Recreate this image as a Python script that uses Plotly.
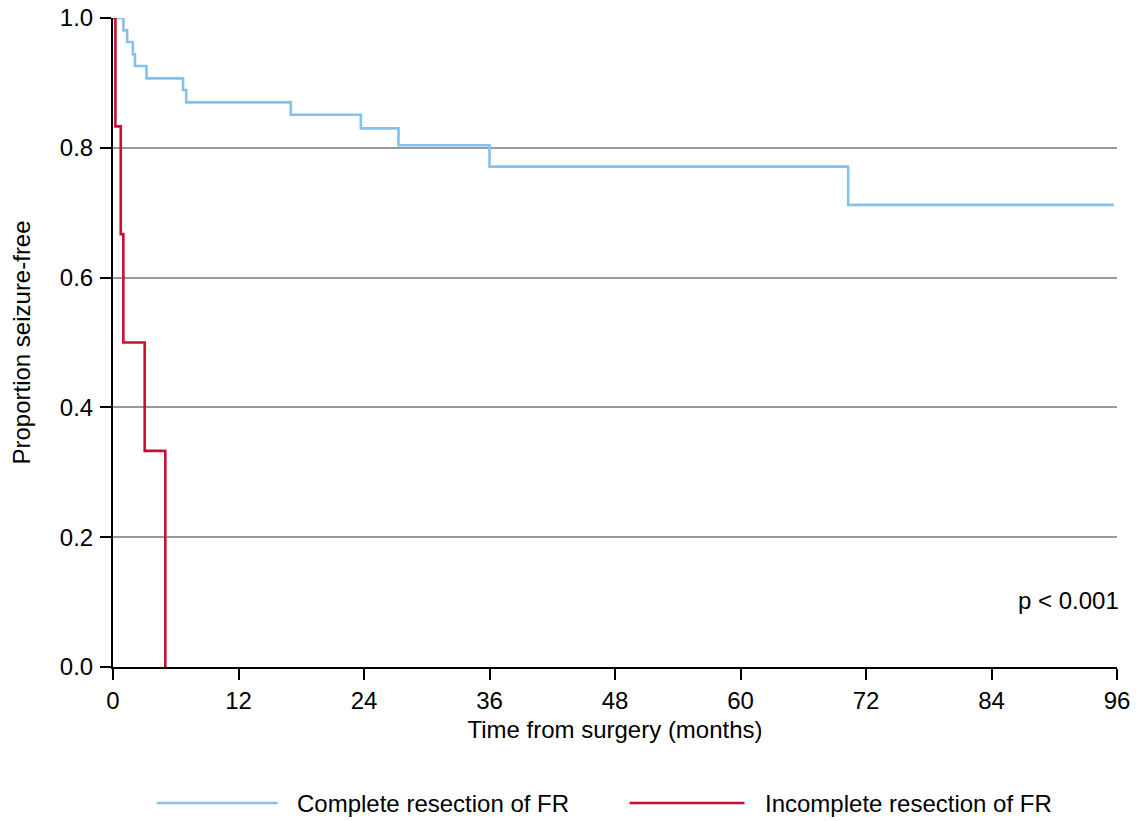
import plotly.graph_objects as go

# Kaplan-Meier step data (months, proportion seizure-free)
complete_t = [0, 1.0, 1.35, 1.9, 2.1, 3.2, 6.7, 7.0, 17.0, 23.7, 27.3, 36.0, 70.3, 95.7]
complete_s = [1.0, 0.981, 0.963, 0.944, 0.926, 0.907, 0.889, 0.870, 0.851, 0.830, 0.804, 0.771, 0.712, 0.712]

incomplete_t = [0, 0.23, 0.74, 0.99, 3.03, 5.0]
incomplete_s = [1.0, 0.833, 0.667, 0.5, 0.333, 0.0]

series_names = ["Complete resection of FR", "Incomplete resection of FR"]
series_colors = ["#85c1ea", "#c8102e"]

x_ticks = [0, 12, 24, 36, 48, 60, 72, 84, 96]
y_ticks = [0.0, 0.2, 0.4, 0.6, 0.8, 1.0]
y_tick_labels = ["0.0", "0.2", "0.4", "0.6", "0.8", "1.0"]

FONT = "Liberation Sans, Arial, sans-serif"
FS = 24
LW = 2.6

fig = go.Figure()
fig.add_trace(go.Scatter(x=complete_t, y=complete_s, mode="lines", line_shape="hv",
                         line=dict(color=series_colors[0], width=LW), name=series_names[0],
                         showlegend=False))
fig.add_trace(go.Scatter(x=incomplete_t, y=incomplete_s, mode="lines", line_shape="hv",
                         line=dict(color=series_colors[1], width=LW), name=series_names[1],
                         showlegend=False))

# manual legend (long line samples like the reference)
leg_y = -0.2096
leg_items = [(0.0434, 0.1640, 0.1810), (0.5145, 0.629, 0.647)]
for (x0, x1, xt), name, col in zip(leg_items, series_names, series_colors):
    fig.add_shape(type="line", xref="paper", yref="paper", x0=x0, x1=x1, y0=leg_y, y1=leg_y,
                  line=dict(color=col, width=LW))
    fig.add_annotation(xref="paper", yref="paper", x=xt, y=leg_y, text=name, showarrow=False,
                       xanchor="left", yanchor="middle", font=dict(size=FS, color="black", family=FONT))

fig.add_annotation(x=96, y=0.103, text="p < 0.001", showarrow=False, xanchor="right",
                   yanchor="middle", xshift=4, font=dict(size=FS, color="black", family=FONT))

fig.update_layout(
    width=1144, height=821,
    margin=dict(l=113, r=27, t=18, b=154),
    plot_bgcolor="white", paper_bgcolor="white",
    font=dict(family=FONT, size=FS, color="black"),
    showlegend=False,
)
fig.update_xaxes(range=[0, 96], tickvals=x_ticks, ticktext=[str(v) for v in x_ticks],
                 automargin=False,
                 showgrid=False, zeroline=False, showline=True, linecolor="black", linewidth=2,
                 ticks="outside", ticklen=11, tickwidth=2, tickcolor="black",
                 tickfont=dict(size=FS),
                 title=dict(text="Time from surgery (months)", standoff=8, font=dict(size=FS)))
fig.update_yaxes(range=[0, 1], tickvals=y_ticks, ticktext=y_tick_labels,
                 automargin=False, ticklabelstandoff=2,
                 showgrid=True, gridcolor="#999999", gridwidth=1.6, zeroline=False,
                 showline=True, linecolor="black", linewidth=2,
                 ticks="outside", ticklen=11, tickwidth=2, tickcolor="black",
                 tickfont=dict(size=FS),
                 title=dict(text="Proportion seizure-free", standoff=22, font=dict(size=FS)))

fig.write_html("out.html", config={"displayModeBar": False},
               post_script="document.body.style.margin='0';")
